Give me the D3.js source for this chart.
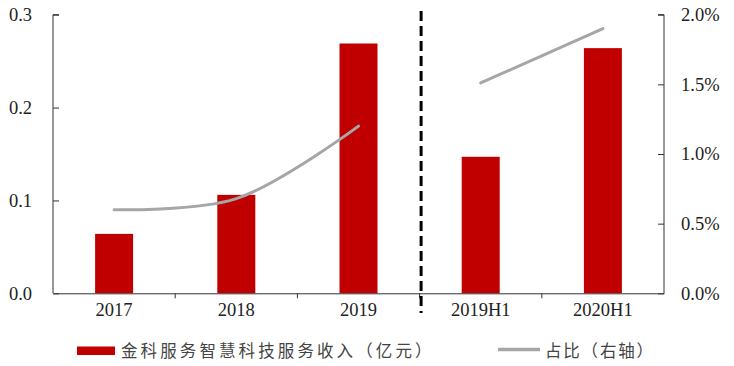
<!DOCTYPE html>
<html><head><meta charset="utf-8">
<script src="https://cdn.jsdelivr.net/npm/d3@7"></script>
<style>body{margin:0;background:#fff}svg{display:block}</style>
</head><body>
<svg id="c" width="734" height="366"></svg>
<script>
const categories = ["2017","2018","2019","2019H1","2020H1"];
const revenue = [0.064, 0.106, 0.269, 0.147, 0.264];
const share = [0.006, 0.0068, 0.012, 0.0151, 0.0190];
const segments = [[0,1,2],[3,4]];
const leftTicks = [0, 0.1, 0.2, 0.3];
const rightTicks = [0, 0.005, 0.01, 0.015, 0.02];
const legendLabels = ["金科服务智慧科技服务收入（亿元）", "占比（右轴）"];

const svg = d3.select("#c");
const L = 53, R = 664, T = 14.7, B = 293.3;
const serif = "'Liberation Serif','Times New Roman',serif";
const cjk = "'Noto Sans CJK SC',sans-serif";

const x = d3.scaleBand().domain(categories).range([L, R]).paddingInner(0).paddingOuter(0);
const yL = d3.scaleLinear().domain([0, 0.3]).range([B, T]);
const yR = d3.scaleLinear().domain([0, 0.02]).range([B, T]);
const bw = 38;

// bars
svg.selectAll("rect.bar").data(categories).enter().append("rect")
  .attr("x", d => x(d) + x.bandwidth()/2 - bw/2)
  .attr("y", (d,i) => yL(revenue[i]))
  .attr("width", bw)
  .attr("height", (d,i) => B - yL(revenue[i]))
  .attr("fill", "#c00000");

// lines
const line = d3.line().x(i => x(categories[i]) + x.bandwidth()/2).y(i => yR(share[i]));
segments.forEach(seg => {
  svg.append("path").attr("d", line.curve(seg.length > 2 ? d3.curveCatmullRom.alpha(0.5) : d3.curveLinear)(seg))
    .attr("fill", "none").attr("stroke", "#a6a6a6").attr("stroke-width", 3).attr("stroke-linecap", "round");
});

// axes
const axColor = "#333";
const gL = svg.append("g").attr("transform", `translate(${L},0)`)
  .call(d3.axisRight(yL).tickValues(leftTicks).tickSize(6).tickFormat(d3.format(".1f")));
gL.select(".domain").attr("d", `M6,${T}H0V${B}`).attr("stroke", axColor);
gL.selectAll(".tick line").attr("stroke", axColor);
gL.selectAll(".tick text").attr("x", -21).attr("text-anchor", "end")
  .attr("font-family", serif).attr("font-size", 18.5).attr("fill", "#222");

const gR = svg.append("g").attr("transform", `translate(${R},0)`)
  .call(d3.axisLeft(yR).tickValues(rightTicks).tickSize(6).tickFormat(d3.format(".1%")));
gR.select(".domain").attr("d", `M-6,${T}H0V${B}`).attr("stroke", axColor);
gR.selectAll(".tick line").attr("stroke", axColor);
gR.selectAll(".tick text").attr("x", 17).attr("text-anchor", "start")
  .attr("font-family", serif).attr("font-size", 18.5).attr("fill", "#222");

const gX = svg.append("g").attr("transform", `translate(0,${B})`)
  .call(d3.axisBottom(x).tickSize(0));
gX.select(".domain").attr("stroke", axColor);
gX.selectAll(".tick text").attr("y", 23).attr("dy", 0).attr("dominant-baseline", "auto")
  .attr("font-family", serif).attr("font-size", 18.5).attr("fill", "#222");
// boundary ticks
svg.selectAll("line.bt").data(categories.slice(1)).enter().append("line")
  .attr("x1", d => x(d)).attr("x2", d => x(d)).attr("y1", B).attr("y2", B + 5)
  .attr("stroke", axColor);

// divider dashed line
const divX = x("2019H1") + 1.5;
svg.append("line").attr("x1", divX).attr("x2", divX).attr("y1", 11).attr("y2", 313)
  .attr("stroke", "#000").attr("stroke-width", 3).attr("stroke-dasharray", "10,5");

// legend
svg.append("rect").attr("x", 77).attr("y", 346.5).attr("width", 38).attr("height", 8.5).attr("fill", "#c00000");
svg.append("text").attr("x", 121).attr("y", 357).text(legendLabels[0])
  .attr("font-family", cjk).attr("font-size", 16.5).attr("letter-spacing", 3.1).attr("fill", "#444");
svg.append("line").attr("x1", 498).attr("x2", 540).attr("y1", 349.5).attr("y2", 349.5)
  .attr("stroke", "#a6a6a6").attr("stroke-width", 3.5);
svg.append("text").attr("x", 545).attr("y", 357).text(legendLabels[1])
  .attr("font-family", cjk).attr("font-size", 16.5).attr("letter-spacing", 1.8).attr("fill", "#444");
</script>
</body></html>
